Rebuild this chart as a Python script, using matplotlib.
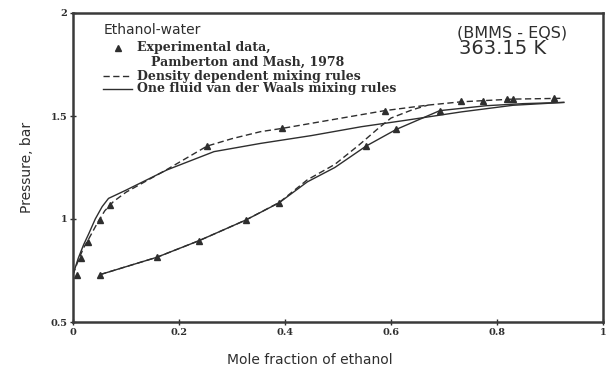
import numpy as np
import matplotlib
matplotlib.use('Agg')
import matplotlib.pyplot as plt
from matplotlib.lines import Line2D

# ── Experimental points (Pemberton and Mash, 1978) ──────────────────
exp_x_liq = [0.007, 0.016, 0.029, 0.051, 0.070, 0.253, 0.395, 0.588, 0.733, 0.818, 0.907]
exp_p_liq = [0.730, 0.810, 0.890, 0.995, 1.070, 1.354, 1.440, 1.526, 1.574, 1.583, 1.586]
exp_x_vap = [0.051, 0.158, 0.238, 0.326, 0.389, 0.553, 0.610, 0.692, 0.774, 0.831]
exp_p_vap = [0.730, 0.814, 0.895, 0.995, 1.079, 1.354, 1.435, 1.526, 1.574, 1.583]

# ── Model curves: density dependent mixing rules ───────────────────
dd_x_liq = [0.0, 0.010, 0.020, 0.030, 0.048, 0.060, 0.076, 0.100, 0.177, 0.253,
            0.300, 0.354, 0.395, 0.480, 0.588, 0.670, 0.733, 0.830, 0.926]
dd_p_liq = [0.730, 0.800, 0.860, 0.905, 0.990, 1.040, 1.084, 1.130, 1.240, 1.354,
            1.390, 1.424, 1.440, 1.478, 1.526, 1.553, 1.569, 1.582, 1.586]
dd_x_vap = [0.051, 0.158, 0.238, 0.326, 0.389, 0.442, 0.494, 0.540, 0.576, 0.600, 0.640, 0.670]
dd_p_vap = [0.730, 0.814, 0.895, 0.995, 1.080, 1.190, 1.265, 1.360, 1.440, 1.490, 1.530, 1.553]

# ── Model curves: one fluid van der Waals mixing rules ─────────────
vdw_x_liq = [0.0, 0.010, 0.020, 0.030, 0.042, 0.055, 0.067, 0.100, 0.177, 0.266,
             0.354, 0.450, 0.544, 0.630, 0.733, 0.830, 0.926]
vdw_p_liq = [0.730, 0.810, 0.875, 0.930, 1.000, 1.060, 1.100, 1.140, 1.238, 1.327,
             1.367, 1.405, 1.448, 1.480, 1.520, 1.552, 1.566]
vdw_x_vap = [0.051, 0.158, 0.238, 0.326, 0.389, 0.442, 0.494, 0.553, 0.610, 0.692, 0.780, 0.850, 0.926]
vdw_p_vap = [0.730, 0.814, 0.895, 0.995, 1.079, 1.180, 1.250, 1.354, 1.435, 1.526, 1.550, 1.560, 1.566]

x_ticks = [0, 0.2, 0.4, 0.6, 0.8, 1]
x_tick_labels = ['0', '0.2', '0.4', '0.6', '0.8', '1']
y_ticks = [0.5, 1, 1.5, 2]
y_tick_labels = ['0.5', '1', '1.5', '2']

INK = '#2e2e2e'
SERIF = 'DejaVu Serif'
SANS = 'DejaVu Sans'
DASH = (0, (4.5, 2.5))

fig = plt.figure(figsize=(6.16, 3.72), dpi=100)
fig.patch.set_facecolor('white')
ax = fig.add_axes([73/616, 1-322/372, 530/616, 309/372])

for xs, ps in [(dd_x_liq, dd_p_liq), (dd_x_vap, dd_p_vap)]:
    ax.plot(xs, ps, color=INK, lw=1.0, ls=DASH)
for xs, ps in [(vdw_x_liq, vdw_p_liq), (vdw_x_vap, vdw_p_vap)]:
    ax.plot(xs, ps, color=INK, lw=1.0, ls='-')
ax.plot(exp_x_liq, exp_p_liq, ls='none', marker='^', ms=5, color=INK)
ax.plot(exp_x_vap, exp_p_vap, ls='none', marker='^', ms=5, color=INK)

ax.set_xlim(0, 1); ax.set_ylim(0.5, 2)
ax.set_xticks(x_ticks); ax.set_xticklabels(x_tick_labels)
ax.set_yticks(y_ticks); ax.set_yticklabels(y_tick_labels)
for lab in ax.get_xticklabels() + ax.get_yticklabels():
    lab.set_fontfamily(SERIF); lab.set_fontweight('bold'); lab.set_fontsize(7)
ax.tick_params(direction='inout', length=4, width=1, color=INK, pad=2, labelcolor=INK)
for sp in ax.spines.values():
    sp.set_linewidth(1.8); sp.set_color('#3a3a3a')

ax.set_ylabel('Pressure, bar', fontsize=10, family=SANS, color=INK, labelpad=12)
fig.text(310/616, 1-360/372, 'Mole fraction of ethanol', ha='center', va='center',
         fontsize=10, family=SANS, color=INK)

# legend block drawn by hand
LEG = dict(transform=ax.transAxes, fontsize=9, family=SERIF, weight='bold',
           color=INK, va='center')
ax.text(0.057, 0.945, 'Ethanol-water', transform=ax.transAxes, fontsize=10,
        family=SANS, color=INK, va='center')
ax.plot([0.085], [0.887], transform=ax.transAxes, marker='^', ms=4.5, color=INK, ls='none')
ax.text(0.121, 0.887, 'Experimental data,', **LEG)
ax.text(0.147, 0.841, 'Pamberton and Mash, 1978', **LEG)
ax.add_line(Line2D([0.057, 0.111], [0.796, 0.796], transform=ax.transAxes,
                   color=INK, lw=1.0, ls=DASH))
ax.text(0.121, 0.796, 'Density dependent mixing rules', **LEG)
ax.add_line(Line2D([0.057, 0.111], [0.755, 0.755], transform=ax.transAxes,
                   color=INK, lw=1.0))
ax.text(0.121, 0.755, 'One fluid van der Waals mixing rules', **LEG)

ax.text(0.724, 0.935, '(BMMS - EQS)', transform=ax.transAxes, fontsize=11.5,
        family=SANS, color=INK, va='center')
ax.text(0.728, 0.885, '363.15 K', transform=ax.transAxes, fontsize=14,
        family=SANS, color=INK, va='center')

fig.savefig('out.png', dpi=100, facecolor='white')
